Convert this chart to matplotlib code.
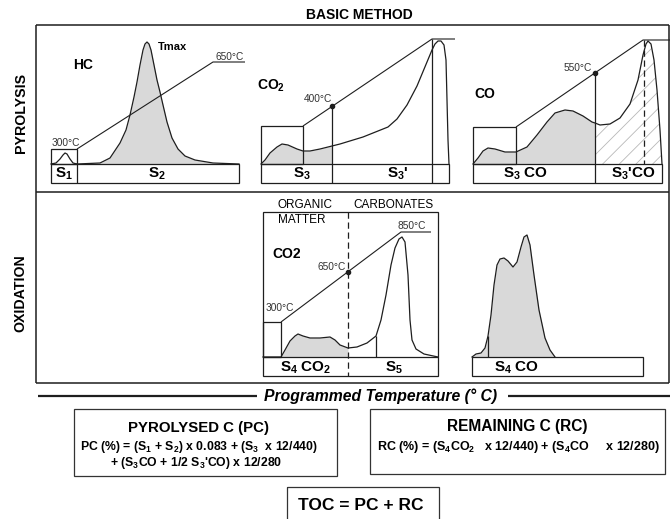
"""Rock-Eval basic method schematic (pyrolysis / oxidation traces + TOC formulas)."""
import matplotlib

matplotlib.use("Agg")
import matplotlib.pyplot as plt
from matplotlib.patches import Rectangle

plt.rcParams["font.family"] = ["Liberation Sans", "DejaVu Sans"]
plt.rcParams["mathtext.default"] = "regular"
plt.rcParams["hatch.linewidth"] = 0.6

INK = "#1e1e1e"
FILL = "#d9d9d9"
HATCH = "#b8b8b8"
OUT = "out.png"

# ---- traces, figure pixels (x right, y down) ----
S1_X = [51, 56, 60, 63, 65, 67, 70, 73, 77]
S1_Y = [164, 163, 159, 155, 153, 154, 159, 163, 164]

S2_X = [77, 100, 110, 120, 126, 130, 134, 137, 140, 143, 145, 147, 149, 151, 154, 157,
        160, 163, 167, 172, 178, 185, 195, 213, 239]
S2_Y = [164, 163, 158, 143, 130, 115, 97, 82, 65, 50, 44, 42, 44, 50, 65, 80,
        92, 105, 122, 138, 149, 156, 160, 163, 164]

CO2_X = [261, 265, 270, 277, 282, 288, 297, 303, 310, 320, 332, 340, 363, 388, 397, 407,
         417, 427, 432, 435, 438, 441, 444, 446, 447, 448, 449]
CO2_Y = [164, 160, 153, 147, 144, 145, 149, 151, 151, 149, 146, 144, 137, 127, 119, 105,
         86, 62, 50, 44, 41, 41, 45, 60, 100, 140, 164]

CO_X = [473, 478, 483, 488, 495, 505, 516, 527, 537, 547, 555, 565, 573, 583, 592, 595,
        600, 610, 620, 630, 638, 643, 646, 648, 651, 654, 657, 660, 662]
CO_Y = [164, 158, 151, 148, 149, 152, 152, 147, 135, 122, 113, 110, 111, 116, 122, 123,
        125, 124, 118, 104, 80, 55, 44, 41, 44, 60, 90, 130, 164]

OX_CO2_X = [263, 281, 285, 290, 295, 298, 303, 310, 320, 330, 335, 340, 348, 357, 367, 376,
            381, 386, 391, 395, 399, 402, 405, 408, 410, 412, 416, 424, 438]
OX_CO2_Y = [357, 357, 350, 341, 336, 334, 336, 338, 338, 337, 340, 345, 348, 347, 343, 336,
            320, 295, 265, 248, 239, 237, 242, 275, 320, 340, 349, 354, 357]

OX_CO_X = [472, 476, 481, 485, 488, 491, 494, 497, 500, 504, 508, 513, 517, 521, 524, 527,
           530, 534, 539, 545, 550, 555]
OX_CO_Y = [357, 354, 353, 348, 336, 315, 285, 265, 259, 258, 261, 267, 262, 247, 237, 235,
           245, 275, 310, 338, 350, 357]

# temperature ramps: start corner, marked point, plateau start, plateau end
RAMP_HC = [(77, 149), (213, 62), (245, 62)]
RAMP_CO2 = [(303, 126), (432, 39), (455, 39)]
RAMP_CO = [(516, 127), (643, 40), (670, 40)]
RAMP_OX = [(281, 322), (401, 232), (431, 232)]
DOTS = [(332, 106), (595, 73), (348, 272)]

TEMP_LABELS = [("300°C", 52, 143), ("650°C", 216, 57), ("400°C", 304, 99),
               ("550°C", 564, 68), ("650°C", 317, 267), ("300°C", 266, 308),
               ("850°C", 397, 226)]

ROW_LABELS = [("S$_1$", 64), ("S$_2$", 157), ("S$_3$", 302), ("S$_3$'", 398),
              ("S$_3$ CO", 526), ("S$_3$'CO", 633)]
OX_ROW_LABELS = [("S$_4$ CO$_2$", 306), ("S$_5$", 394), ("S$_4$ CO", 517)]

PC_LINES = ["PC (%) = (S$_1$ + S$_2$) x 0.083 + (S$_3$  x 12/440)",
            "+ (S$_3$CO + 1/2 S$_3$'CO) x 12/280"]
RC_LINE = "RC (%) = (S$_4$CO$_2$   x 12/440) + (S$_4$CO     x 12/280)"


def main() -> int:
    fig = plt.figure(figsize=(6.7, 5.19), dpi=100)
    ax = fig.add_axes([0, 0, 1, 1])
    ax.set_xlim(0, 670)
    ax.set_ylim(519, 0)
    ax.axis("off")

    def box(x0, y0, x1, y1, lw=0.9, color=INK):
        ax.add_patch(Rectangle((x0, y0), x1 - x0, y1 - y0, fill=False,
                               edgecolor=color, lw=lw))

    def seg(xs, ys, lw=0.9, **kw):
        ax.plot(xs, ys, color=INK, lw=lw, solid_capstyle="butt", **kw)

    def trace(xs, ys, base, fill_from=None, fill_to=None, hatch_from=None):
        if fill_from is not None:
            sel = [i for i, x in enumerate(xs) if fill_from <= x <= fill_to]
            ax.fill_between([xs[i] for i in sel], [ys[i] for i in sel], base,
                            color=FILL, lw=0)
        if hatch_from is not None:
            sel = [i for i, x in enumerate(xs) if x >= hatch_from]
            ax.fill_between([xs[i] for i in sel], [ys[i] for i in sel], base,
                            facecolor="none", edgecolor=HATCH, hatch="//", lw=0)
        ax.plot(xs, ys, color=INK, lw=0.9, solid_joinstyle="round")

    def ramp(pts):
        seg([p[0] for p in pts], [p[1] for p in pts], lw=0.8)

    # ---- outer frames ----
    ax.text(359, 15, "BASIC METHOD", ha="center", va="center", fontsize=10, fontweight="bold")
    seg([36, 669], [25, 25], lw=1.1)
    seg([36, 669], [192, 192], lw=1.1)
    seg([36, 669], [383, 383], lw=1.1)
    seg([36, 36], [25, 383], lw=1.1)
    seg([669, 669], [25, 383], lw=1.1)
    ax.text(21, 113, "PYROLYSIS", rotation=90, ha="center", va="center",
            fontsize=10.2, fontweight="bold")
    ax.text(20, 293, "OXIDATION", rotation=90, ha="center", va="center",
            fontsize=10.2, fontweight="bold")

    # ---- HC ----
    trace(S2_X, S2_Y, 164, fill_from=77, fill_to=239)
    trace(S1_X, S1_Y, 164)
    box(51, 149, 77, 164)
    box(51, 164, 239, 183)
    seg([77, 77], [164, 183])
    ramp(RAMP_HC)
    ax.text(83, 65, "HC", ha="center", va="center", fontsize=10, fontweight="bold")
    ax.text(173, 47, "Tmax", ha="center", va="center", fontsize=8, fontweight="bold")

    # ---- CO2 ----
    trace(CO2_X, CO2_Y, 164, fill_from=261, fill_to=332)
    box(261, 126, 303, 164)
    box(261, 164, 449, 183)
    seg([332, 332], [106, 183])
    seg([432, 432], [39, 183])
    ramp(RAMP_CO2)
    ax.text(257, 86, "CO$_2$", ha="left", va="center", fontsize=10, fontweight="bold")

    # ---- CO ----
    trace(CO_X, CO_Y, 164, fill_from=473, fill_to=595, hatch_from=595)
    box(473, 127, 516, 164)
    box(473, 164, 662, 183)
    seg([595, 595], [73, 183])
    seg([644, 644], [40, 164], ls=(0, (5, 3)))
    ramp(RAMP_CO)
    ax.text(485, 94, "CO", ha="center", va="center", fontsize=10, fontweight="bold")

    for label, x in ROW_LABELS:
        ax.text(x, 174, label, ha="center", va="center", fontsize=11, fontweight="bold")

    # ---- oxidation CO2 ----
    trace(OX_CO2_X, OX_CO2_Y, 357, fill_from=281, fill_to=348)
    box(263, 212, 438, 376)
    box(263, 322, 281, 357)
    seg([263, 438], [357, 357])
    seg([376, 376], [336, 357])
    seg([348, 348], [212, 376], ls=(0, (5, 3)))
    ramp(RAMP_OX)
    ax.text(278, 205, "ORGANIC", ha="left", va="center", fontsize=8.5)
    ax.text(278, 220, "MATTER", ha="left", va="center", fontsize=8.5)
    ax.text(353, 205, "CARBONATES", ha="left", va="center", fontsize=8.5)
    ax.text(272, 254, "CO2", ha="left", va="center", fontsize=10, fontweight="bold")

    # ---- oxidation CO ----
    trace(OX_CO_X, OX_CO_Y, 357, fill_from=472, fill_to=555)
    seg([488, 488], [336, 357])
    box(472, 357, 643, 376)

    for label, x in OX_ROW_LABELS:
        ax.text(x, 368, label, ha="center", va="center", fontsize=11, fontweight="bold")

    for label, x, y in TEMP_LABELS:
        ax.text(x, y, label, ha="left", va="center", fontsize=7.3, color="#333333")
    ax.plot([d[0] for d in DOTS], [d[1] for d in DOTS], "o", color=INK, ms=3)

    # ---- temperature axis + formulas ----
    seg([38, 257], [396, 396], lw=1.6)
    seg([508, 670], [396, 396], lw=1.6)
    ax.text(381, 396, "Programmed Temperature (° C)", ha="center", va="center",
            fontsize=11.3, fontweight="bold", fontstyle="italic")

    box(74, 409, 337, 476, color="#333333")
    ax.text(199, 428, "PYROLYSED C (PC)", ha="center", va="center", fontsize=10.8,
            fontweight="bold")
    ax.text(199, 447, PC_LINES[0], ha="center", va="center", fontsize=8.8, fontweight="bold")
    ax.text(196, 463, PC_LINES[1], ha="center", va="center", fontsize=8.8, fontweight="bold")

    box(370, 409, 665, 474, color="#333333")
    ax.text(517, 427, "REMAINING C (RC)", ha="center", va="center", fontsize=11.2,
            fontweight="bold")
    ax.text(518, 447, RC_LINE, ha="center", va="center", fontsize=9.0, fontweight="bold")

    box(287, 487, 439, 540, color="#333333")
    ax.text(361, 505, "TOC = PC + RC", ha="center", va="center", fontsize=12.5,
            fontweight="bold")

    fig.savefig(OUT, dpi=100, facecolor="white")
    plt.close(fig)
    return 0


if __name__ == "__main__":
    main()
